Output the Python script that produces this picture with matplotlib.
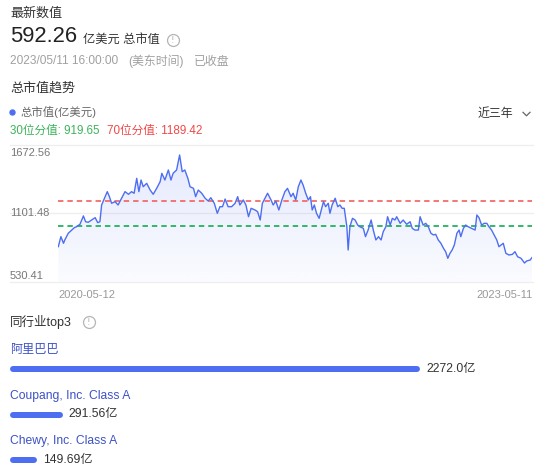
import numpy as np
import pandas as pd
import matplotlib
matplotlib.use("Agg")
import matplotlib.pyplot as plt
import matplotlib.dates as mdates
from matplotlib.lines import Line2D
from matplotlib.patches import Polygon
from matplotlib.colors import to_rgb

plt.rcParams['font.family'] = ['Liberation Sans', 'Noto Sans CJK SC', 'DejaVu Sans']

# ---------------- data ----------------
latest_value = "592.26"
latest_unit = "亿美元 总市值"
latest_time = "2023/05/11 16:00:00"
time_zone = "(美东时间)"
status = "已收盘"
series_name = "总市值(亿美元)"
range_label = "近三年"

start_date = "2020-05-12"
day_offsets = [0, 6, 12, 15, 23, 31, 37, 42, 50, 58,
               63, 69, 77, 85, 91, 96, 100, 108, 113, 118,
               123, 131, 138, 146, 154, 162, 169, 175, 181, 186,
               191, 196, 204, 212, 219, 227, 235, 239, 246, 254,
               260, 265, 273, 279, 280, 286, 292, 299, 304, 312,
               317, 323, 331, 339, 346, 352, 360, 367, 373, 379,
               385, 392, 400, 408, 414, 419, 427, 433, 439, 445,
               454, 460, 466, 471, 477, 483, 491, 496, 502, 509,
               516, 523, 529, 537, 542, 548, 554, 560, 565, 571,
               577, 582, 586, 591, 596, 602, 606, 612, 617, 623,
               627, 632, 639, 645, 650, 655, 660, 666, 669, 673,
               679, 685, 691, 696, 704, 709, 715, 722, 727, 733,
               739, 745, 750, 756, 760, 766, 771, 777, 781, 789,
               796, 804, 812, 817, 823, 831, 835, 842, 848, 854,
               860, 866, 871, 877, 883, 889, 894, 899, 904, 909,
               914, 920, 925, 929, 935, 940, 946, 954, 962, 966,
               971, 977, 983, 989, 994, 1000, 1006, 1012, 1017, 1022,
               1027, 1033, 1040, 1048, 1054, 1060, 1068, 1076, 1081, 1089,
               1094]
market_cap = [703, 809, 739, 774, 845, 879, 904, 914, 940, 1028,
              967, 961, 985, 1010, 957, 967, 1144, 1232, 1285, 1232,
              1162, 1179, 1144, 1215, 1285, 1257, 1285, 1268, 1426, 1285,
              1408, 1337, 1373, 1302, 1257, 1320, 1390, 1479, 1408, 1514,
              1408, 1479, 1514, 1655, 1672.56, 1496, 1514, 1426, 1337, 1320,
              1232, 1302, 1268, 1215, 1186, 1221, 1162, 1056, 1126, 1126,
              1207, 1126, 1126, 1162, 1232, 1144, 1197, 1144, 1020, 1109,
              1091, 1073, 985, 1162, 1215, 1268, 1197, 1144, 1186, 1091,
              1197, 1285, 1320, 1232, 1268, 1197, 1337, 1408, 1355, 1268,
              1197, 1232, 1091, 1144, 1056, 1003, 1073, 1179, 1126, 1162,
              1056, 1144, 1215, 1126, 1144, 1109, 1109, 914, 668, 914,
              1003, 985, 932, 914, 897, 809, 879, 985, 879, 774,
              809, 774, 862, 914, 1020, 932, 1003, 985, 1020, 950,
              985, 940, 967, 897, 879, 879, 1020, 932, 950, 914,
              845, 827, 834, 774, 739, 686, 650, 580, 633, 668,
              721, 845, 879, 809, 897, 932, 914, 897, 879, 1038,
              1010, 932, 950, 950, 914, 879, 827, 774, 703, 721,
              739, 633, 615, 622, 650, 597, 580, 530.41, 552, 562,
              592.26]
p30_value = 919.65
p70_value = 1189.42
p30_label = "30位分值: 919.65"
p70_label = "70位分值: 1189.42"
y_tick_labels = ["530.41", "1101.48", "1672.56"]
x_tick_labels = ["2020-05-12", "2023-05-11"]

peer_title = "同行业top3"
peers = ["阿里巴巴", "Coupang, Inc. Class A", "Chewy, Inc. Class A"]
peer_caps = [2272.0, 291.56, 149.69]
peer_labels = ["2272.0亿", "291.56亿", "149.69亿"]

# ---------------- style ----------------
W, H = 550, 468
BLUE = "#4e6ef2"
RED = "#f46b6b"
GREEN = "#22b35e"
PT = 72.0 / 100.0  # points per pixel

fig = plt.figure(figsize=(W / 100, H / 100), dpi=100)
fig.patch.set_facecolor("white")


def ftext(x, y, s, size, color, ha="left", va="center", **kw):
    fig.text(x / W, 1 - y / H, s, fontsize=size, color=color, ha=ha, va=va, **kw)


def info_icon(x, y):
    fig.add_artist(Line2D([x / W], [1 - y / H], marker="o", markersize=8.6,
                          mfc="none", mec="#b5b5b5", mew=0.9, transform=fig.transFigure))
    ftext(x, y + 0.3, "!", 6.5, "#b5b5b5", ha="center", family=["DejaVu Sans"])


# header texts
ftext(10, 13, "最新数值", 9.4, "#333333")
ftext(10, 37, latest_value, 15.8, "#222222")
ftext(83, 40, latest_unit, 8.8, "#333333")
info_icon(172.7, 40)
ftext(10, 61.5, latest_time, 8.6, "#a0a0a0")
ftext(128, 61.5, time_zone, 8.6, "#a0a0a0")
ftext(194, 61.5, status, 8.6, "#a0a0a0")
ftext(10, 88, "总市值趋势", 9.4, "#333333")

fig.add_artist(Line2D([11.7 / W], [1 - 111.5 / H], marker="o", markersize=3.6,
                      color=BLUE, mec=BLUE, transform=fig.transFigure))
ftext(20.7, 112, series_name, 8.2, "#666666")
ftext(10, 130.5, p30_label, 8.4, "#3cb35a")
ftext(106.7, 130.5, p70_label, 8.4, "#f04848")
ftext(477.5, 114, range_label, 8.6, "#333333")
fig.add_artist(Line2D([523 / W, 526.5 / W, 530 / W],
                      [1 - 112.3 / H, 1 - 115.8 / H, 1 - 112.3 / H],
                      color="#666666", lw=0.9, transform=fig.transFigure))

# ---------------- trend chart ----------------
left_px, right_px, top_px, bot_px = 58.3, 532.3, 145.0, 281.7
ax = fig.add_axes([left_px / W, 1 - bot_px / H, (right_px - left_px) / W, (bot_px - top_px) / H])
dates = pd.Timestamp(start_date) + pd.to_timedelta(day_offsets, unit="D")
xn = mdates.date2num(dates.to_pydatetime())
vals = np.array(market_cap, dtype=float)
y_lo, y_hi = 332.7, 1778.3

# gradient fill under curve
poly = Polygon([(xn[0], y_lo)] + list(zip(xn, vals)) + [(xn[-1], y_lo)],
               closed=True, facecolor="none", edgecolor="none")
ax.add_patch(poly)
n = 256
rgba = np.zeros((n, 1, 4))
rgba[..., :3] = to_rgb(BLUE)
rgba[..., 3] = np.linspace(0.16, 0.025, n).reshape(-1, 1)
im = ax.imshow(rgba, extent=[xn[0], xn[-1], y_lo, y_hi], aspect="auto",
               origin="upper", zorder=1, interpolation="bilinear")
im.set_clip_path(poly)

ax.plot(xn, vals, color=BLUE, lw=1.0, zorder=3)
ax.axhline(p70_value, color=RED, lw=1.3, ls=(0, (3, 2.2)), zorder=2)
ax.axhline(p30_value, color=GREEN, lw=1.3, ls=(0, (3, 2.2)), zorder=2)

ax.set_xlim(xn[0], xn[-1])
ax.set_ylim(y_lo, y_hi)
for s in ax.spines.values():
    s.set_visible(False)
ax.set_xticks([])
ax.set_yticks([])
ax.patch.set_alpha(0)

grid_x0 = (10 - left_px) / (right_px - left_px)
grid_x1 = (533 - left_px) / (right_px - left_px)
tick_vals = [y_lo, (y_lo + y_hi) / 2, y_hi]
for tv in tick_vals:
    ax.axhline(tv, xmin=grid_x0, xmax=grid_x1, color="#eeeeee", lw=0.9, clip_on=False, zorder=0)

ytr = ax.get_yaxis_transform()
vas = ["bottom", "center", "top"]
offs = [0.3, 0.8, -2.8]
for tv, lab, va, o in zip(tick_vals, y_tick_labels, vas, offs):
    ax.annotate(lab, xy=(grid_x0, tv), xycoords=ytr, xytext=(0, o * PT),
                textcoords="offset points", ha="left", va=va, fontsize=8, color="#777777")

ax.annotate(x_tick_labels[0], xy=(xn[0], 0), xycoords=("data", "axes fraction"),
            xytext=(0, -12.8 * PT), textcoords="offset points", ha="left", va="center",
            fontsize=8, color="#999999")
ax.annotate(x_tick_labels[1], xy=(xn[-1], 0), xycoords=("data", "axes fraction"),
            xytext=(0, -12.8 * PT), textcoords="offset points", ha="right", va="center",
            fontsize=8, color="#999999")

# ---------------- peers ----------------
ftext(10, 322, peer_title, 9.0, "#333333")
info_icon(88.5, 322)

bar_left, bar_right = 10.0, 420.0
row0, row_step = 369.0, 45.5
ax2_top = 330.0
ax2 = fig.add_axes([bar_left / W, 0, (bar_right - bar_left) / W, (H - ax2_top) / H])
ax2.set_xlim(0, max(peer_caps))
ax2.set_ylim((H - row0) / row_step, (ax2_top - row0) / row_step)
ax2.axis("off")
cap_r = 3.0 / (bar_right - bar_left) * max(peer_caps)
for i, (name, v, lab) in enumerate(zip(peers, peer_caps, peer_labels)):
    ax2.plot([cap_r, v - cap_r], [i, i], color=BLUE, lw=6 * PT, solid_capstyle="round",
             clip_on=False)
    ax2.annotate(name, xy=(0, i), xytext=(0, 19 * PT), textcoords="offset points",
                 ha="left", va="center", fontsize=8.7, color="#3d52c6", annotation_clip=False)
    ax2.annotate(lab, xy=(v, i), xytext=(6 * PT, 0), textcoords="offset points",
                 ha="left", va="center", fontsize=8.7, color="#333333", annotation_clip=False)

fig.savefig("out.png", dpi=100, facecolor="white")
